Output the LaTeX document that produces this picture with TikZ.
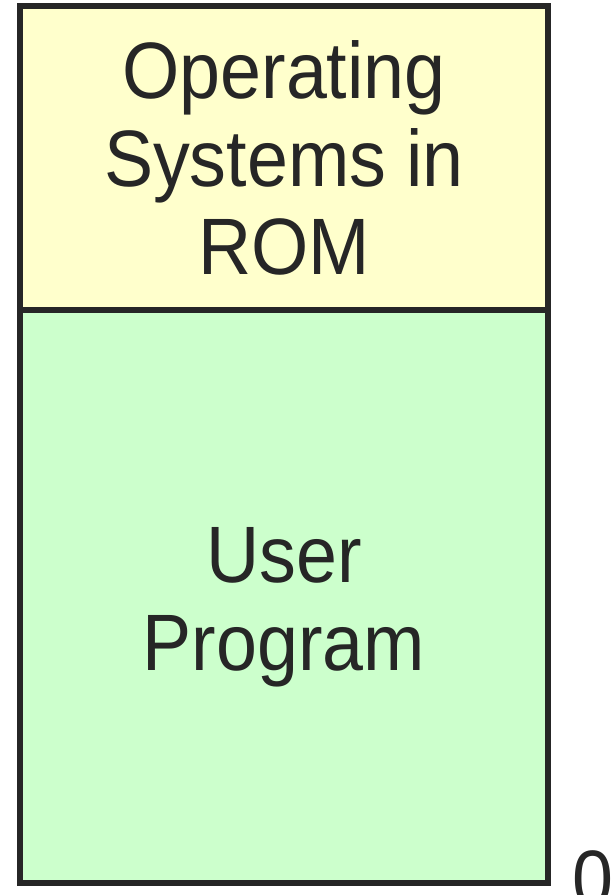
\documentclass[tikz,border=0pt]{standalone}
\usepackage{fontspec}
\setmainfont{Liberation Sans}[FakeStretch=0.92]
\definecolor{ink}{HTML}{262626}
\definecolor{romfill}{HTML}{FFFFCC}
\definecolor{userfill}{HTML}{CCFFCC}
\begin{document}
\begin{tikzpicture}[x=1pt,y=-1pt,
  region/.style={draw=ink,line width=6pt,line join=miter},
  label/.style={text=ink,align=center,inner sep=0pt,font=\fontsize{80}{88}\selectfont}]
\useasboundingbox (0,0) rectangle (613,895);
\clip (0,0) rectangle (613,895);
\draw[region,fill=userfill] (20,310) rectangle (548,883);
\draw[region,fill=romfill] (20,6) rectangle (548,310);
\node[label] (rom) at (284,158) {Operating\\Systems in\\ROM};
\node[label] (user) at (284,607) {User\\Program};
\node[label,anchor=base west] (zero) at (572,906) {0};
\end{tikzpicture}
\end{document}
